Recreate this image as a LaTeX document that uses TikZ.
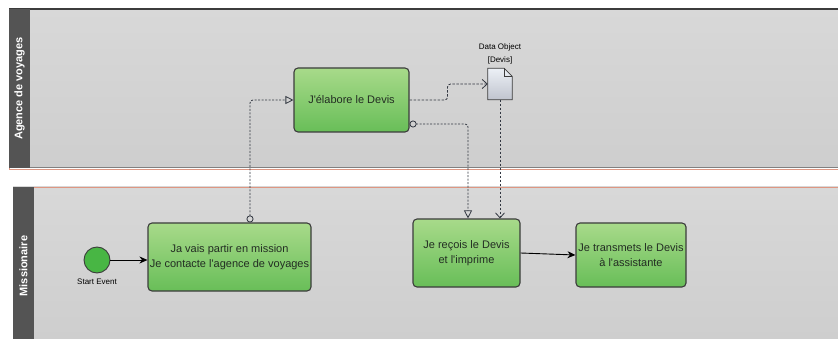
\documentclass[tikz,border=0pt]{standalone}
\usepackage{fontspec}
\setmainfont{Liberation Sans}[Ligatures=TeXOff]
\usetikzlibrary{arrows.meta, positioning}
\definecolor{laneBody}{RGB}{216,216,216}
\definecolor{laneBodyLow}{RGB}{206,206,206}
\definecolor{laneHead}{RGB}{84,84,84}
\definecolor{laneEdge}{RGB}{222,150,130}
\definecolor{taskTop}{RGB}{168,218,138}
\definecolor{taskBottom}{RGB}{104,190,88}
\definecolor{taskBorder}{RGB}{60,60,60}
\definecolor{taskText}{RGB}{35,45,35}
\definecolor{startGreen}{RGB}{72,182,68}
\definecolor{docTop}{RGB}{236,240,246}
\definecolor{docBottom}{RGB}{192,196,206}
\definecolor{flowGray}{RGB}{50,55,65}
\tikzstyle{arrow} = [line width=0.9pt, -{Stealth[length=8pt,width=7pt]}]
\tikzstyle{task} = [rectangle, rounded corners=4pt, inner sep=0pt, line width=1.1pt, text centered, align=center, draw=taskBorder, top color=taskTop, bottom color=taskBottom, text=taskText, font=\fontsize{11}{15}\selectfont]
\tikzstyle{message} = [line width=0.8pt, flowGray, dash pattern=on 2pt off 1.5pt, rounded corners=3pt, {Circle[open,length=7pt]}-{Triangle[open,length=8pt,width=8pt]}]
\tikzstyle{assoc} = [line width=0.8pt, flowGray, dash pattern=on 2.5pt off 1.5pt, rounded corners=3pt, -{Straight Barb[length=5pt,width=9pt]}]
\tikzstyle{lanetitle} = [rotate=90, text=white, font=\bfseries\fontsize{11}{13}\selectfont]
\tikzstyle{small} = [align=center, font=\fontsize{8}{13}\selectfont]

\begin{document}
\begin{tikzpicture}[x=1pt, y=-1pt]
\useasboundingbox (0,0) rectangle (838,339);

% Lanes
\fill[white] (0,0) rectangle (838,339);
\shade[top color=laneBody, bottom color=laneBodyLow] (9,9) rectangle (838,168);
\draw[laneEdge, line width=0.6pt] (9,9) rectangle (840,169);
\draw[taskBorder, line width=1.2pt] (9,9) -- (838,9);
\draw[gray, line width=1.2pt] (9,167.5) -- (838,167.5);
\fill[laneHead] (9,9) rectangle (30,168);
\node (agence) [lanetitle] at (19.5,88.5) {Agence de voyages};

\shade[top color=laneBody, bottom color=laneBodyLow] (13,187) rectangle (838,339);
\draw[laneEdge, line width=0.6pt] (13,341) -- (13,187) -- (840,187);
\fill[laneHead] (13,187) rectangle (34,339);
\node (missionaire) [lanetitle] at (23.5,266) {Missionaire};

% Nodes
\node (start) [circle, minimum size=26pt, inner sep=0pt, line width=0.9pt, draw=taskBorder, fill=startGreen] at (97,260) {};
\node (startlabel) [small, below=2pt of start] {Start Event};
\node (contact) [task, minimum width=163pt, minimum height=68pt] at (229.5,257) {Ja vais partir en mission\\Je contacte l'agence de voyages};
\node (elab) [task, minimum width=115pt, minimum height=64pt] at (351.5,100) {J'élabore le Devis};
\node (recois) [task, minimum width=107pt, minimum height=68pt] at (466.5,253) {Je reçois le Devis\\et l'imprime};
\node (transmets) [task, minimum width=110pt, minimum height=64pt] at (631,255) {Je transmets le Devis\\à l'assistante};
\node (dataobj) [minimum width=24pt, minimum height=31pt, inner sep=0pt] at (500,84) {};
\node (datalabel) [small, above=1pt of dataobj] {Data Object\\{[Devis]}};

% Data object shape
\shade[top color=docTop, bottom color=docBottom, draw=taskBorder, line width=0.8pt]
  (dataobj.south west) -- (dataobj.north west) -- ([xshift=-8pt]dataobj.north east)
  -- ([yshift=-8pt]dataobj.north east) -- (dataobj.south east) -- cycle;
\draw[taskBorder, line width=0.6pt] ([xshift=-8pt]dataobj.north east) -- ([xshift=-8pt,yshift=-8pt]dataobj.north east) -- ([yshift=-8pt]dataobj.north east);

% Connectors
\draw [arrow] (start.east) -- (start.east -| contact.west);
\draw [message] ([xshift=20.5pt]contact.north) |- (elab.west);
\draw [assoc] (elab.east) -- ++(38,0) |- (dataobj.west);
\draw [message] ([yshift=-24pt]elab.east) -| ([xshift=1.5pt]recois.north);
\draw [assoc] (dataobj.south) -- (dataobj.south |- recois.north);
\draw [arrow] (recois.east) -- (transmets.west);

\end{tikzpicture}
\end{document}
